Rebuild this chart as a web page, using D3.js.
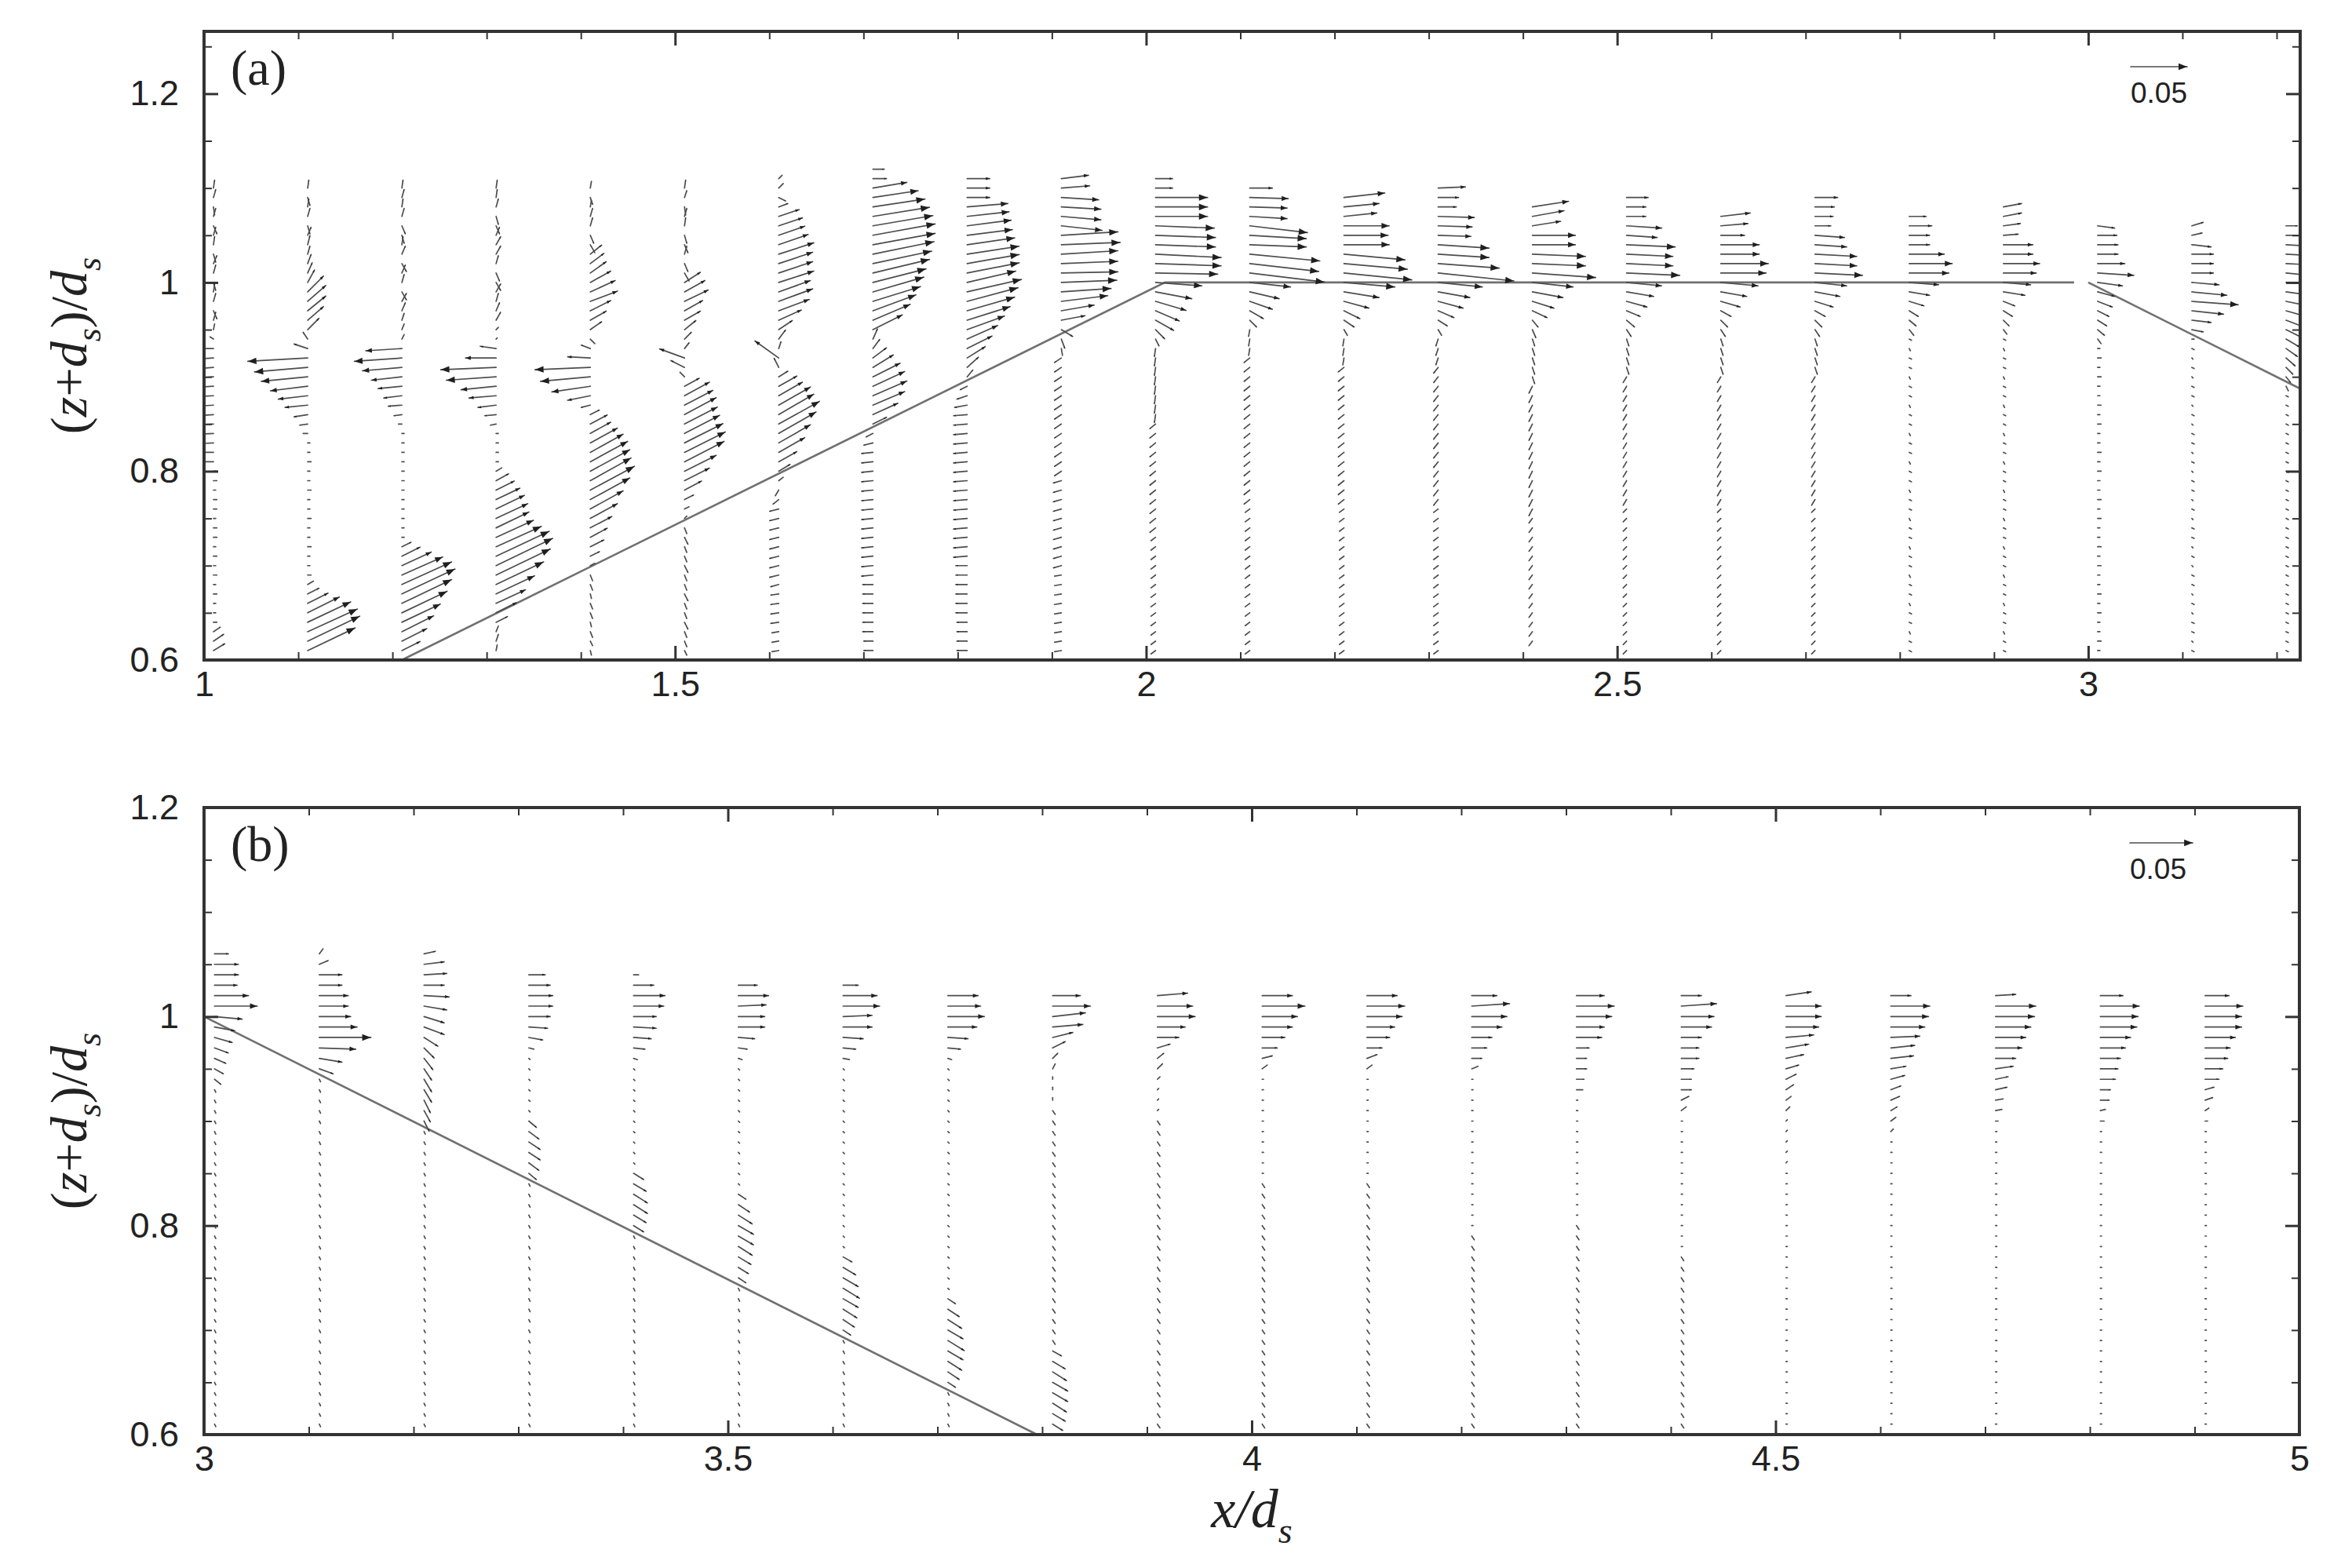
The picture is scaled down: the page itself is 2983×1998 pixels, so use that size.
<!DOCTYPE html>
<html>
<head>
<meta charset="utf-8">
<script src="https://cdn.jsdelivr.net/npm/d3@7"></script>
<style>
  body { margin: 0; background: #fff; }
  svg { display: block; }
</style>
</head>
<body>
<div id="main"></div>
<script>
// velocity vectors in units of 0.001 (reference arrow = 50 -> 0.05)
const VEC = 0.0012;   // x/d_s length per unit of velocity
const ROW = 0.01;     // vertical spacing of measuring points
const REF = 50;

// ---- panel (a) ----
const xTicksA = [1, 1.5, 2, 2.5, 3];
const xLabelsA = ['1', '1.5', '2', '2.5', '3'];
const yTicksA = [0.6, 0.8, 1.0, 1.2];
const yLabelsA = ['0.6', '0.8', '1', '1.2'];
const bedA1 = [[1.21, 0.6], [2.02, 1.0], [2.985, 1.0]];
const bedA2 = [[3.0, 1.0], [3.225, 0.8875]];

const profA_x = [1.01, 1.11, 1.21, 1.31, 1.41, 1.51, 1.61, 1.71, 1.81, 1.91, 2.01, 2.11, 2.21, 2.31, 2.41, 2.51, 2.61, 2.71, 2.81, 2.91, 3.01, 3.11, 3.21];
const profA_top = [1.10, 1.10, 1.10, 1.10, 1.10, 1.10, 1.11, 1.12, 1.11, 1.11, 1.11, 1.10, 1.09, 1.10, 1.08, 1.09, 1.07, 1.09, 1.07, 1.08, 1.06, 1.06, 1.06];

const profA_u = [
  [1,2,1,2,3,2,1,2,3,2,2,1,2,3,2,1,-3,-10,-18,-25,-30,-33,-34,-34,-32,-29,-25,-20,-15,-10,3,3,2,3,3,2,3,3,2,3,2,3,2,3,2,2,3,6,9,10],
  [1,2,1,2,2,3,2,2,3,4,6,14,16,16,14,10,-4,-12,-53,-47,-41,-33,-26,-20,-12,-7,-4,2,2,3,2,2,3,2,2,3,2,2,3,2,2,3,5,10,18,28,38,44,46,42],
  [1,2,1,2,3,2,1,3,4,3,2,4,4,3,2,2,2,-32,-42,-35,-27,-21,-16,-12,-7,-3,2,2,2,2,2,2,2,2,2,2,2,2,8,16,26,36,44,47,44,40,34,28,22,16],
  [1,1,2,2,3,3,4,4,2,3,4,4,2,3,4,2,1,-14,-27,-49,-44,-31,-24,-16,-10,-5,2,2,2,2,5,11,16,21,25,28,29,33,40,47,50,48,42,34,26,18,10,2,2,1],
  [1,2,1,2,2,3,4,10,12,14,18,22,24,18,14,10,4,-8,-20,-49,-44,-34,-20,-8,8,15,18,24,29,33,35,36,39,35,29,24,19,15,12,8,4,2,2,1,2,2,1,2,2,1],
  [1,2,1,2,1,2,3,2,3,4,14,18,21,16,14,10,6,4,-22,-12,-4,13,22,25,28,29,31,34,36,35,28,22,15,8,4,2,2,3,2,2,3,2,2,3,2,2,3,2,2,2],
  [3,4,6,8,18,21,23,26,31,30,30,31,28,30,27,20,12,6,2,-21,-4,8,16,21,28,31,36,33,28,23,16,10,4,-3,-5,-8,-8,-8,-8,-8,-8,-8,-8,-7,-7,-7,-7,-7,-6,-6,-6],
  [10,12,30,40,46,50,53,55,55,54,52,50,47,45,42,38,33,26,4,6,12,18,24,28,30,28,22,12,-6,-8,-10,-10,-10,-10,-10,-10,-10,-10,-10,-10,-10,-10,-10,-10,-9,-9,-9,-9,-9,-9,-8,-8],
  [20,20,20,36,37,39,40,42,46,46,46,43,48,45,42,38,33,27,22,16,10,5,-6,-9,-11,-12,-12,-12,-12,-12,-12,-12,-12,-12,-12,-12,-12,-12,-12,-12,-12,-10,-10,-10,-10,-10,-10,-9,-9,-9,-9],
  [24,25,33,35,35,36,50,52,50,50,50,49,44,41,29,21,10,3,1,-6,-6,-6,-6,-6,-6,-6,-6,-6,-6,-6,-6,-6,-7,-7,-7,-7,-7,-7,-7,-7,-7,-7,-6,-6,-6,-6,-6,-6,-6,-6,-6],
  [15,15,46,46,46,52,53,53,58,58,55,41,32,27,21,16,8,3,-1,-1,-1,-1,-1,-1,-1,-1,-5,-5,-5,-5,-5,-5,-5,-5,-5,-5,-5,-5,-4,-4,-4,-4,-4,-4,-4,-4,-4,-4,-4,-4,-4],
  [20,34,33,33,51,50,50,62,61,66,36,26,20,12,6,-1,-1,-1,-5,-5,-5,-5,-5,-5,-5,-5,-5,-5,-5,-5,-5,-5,-5,-5,-4,-4,-4,-4,-4,-4,-4,-4,-4,-4,-4,-4,-4,-4,-4,-4],
  [36,31,29,40,39,40,54,56,60,45,31,22,14,9,3,-1,-1,-1,-5,-5,-5,-5,-5,-5,-5,-5,-5,-5,-5,-5,-5,-5,-5,-4,-4,-4,-4,-4,-4,-4,-4,-4,-4,-4,-4,-4,-4,-4,-4],
  [24,18,16,32,30,29,45,45,54,67,39,28,22,14,8,3,-2,-2,-2,-4,-4,-4,-4,-4,-4,-4,-4,-4,-4,-4,-4,-4,-4,-4,-4,-4,-4,-4,-4,-4,-4,-4,-4,-4,-4,-4,-4,-4,-4,-4],
  [32,28,25,38,38,47,47,56,36,27,19,13,5,3,2,2,2,2,2,-3,-3,-3,-3,-3,-3,-3,-3,-3,-3,-3,-3,-3,-3,-3,-3,-3,-3,-3,-3,-3,-3,-3,-3,-3,-3,-3,-3],
  [19,17,17,31,27,43,41,41,47,31,24,18,12,7,4,2,2,2,2,-3,-3,-3,-3,-3,-3,-3,-3,-3,-3,-3,-3,-3,-3,-3,-3,-3,-3,-3,-3,-3,-3,-3,-3,-3,-3,-3,-3,-3,-3],
  [26,24,21,34,34,42,40,33,23,17,9,6,4,2,2,2,2,-3,-3,-3,-3,-3,-3,-3,-3,-3,-3,-3,-3,-3,-3,-3,-3,-3,-3,-3,-3,-3,-3,-3,-3,-3,-3,-3,-3,-3,-3],
  [20,17,16,14,26,28,37,37,42,28,22,16,9,6,4,2,2,2,2,-3,-3,-3,-3,-3,-3,-3,-3,-3,-3,-3,-3,-3,-3,-3,-3,-3,-3,-3,-3,-3,-3,-3,-3,-3,-3,-3,-3,-3,-3],
  [15,20,18,18,31,38,35,26,18,13,8,6,4,2,1,2,2,1,2,2,1,2,2,1,2,2,1,2,2,1,2,2,1,2,2,1,2,2,1,2,2,1,2,2,1,2,2],
  [16,16,15,13,26,26,32,29,24,19,10,8,5,3,2,1,2,2,1,2,2,1,2,2,1,2,2,1,2,2,1,2,2,1,2,2,1,2,2,1,2,2,1,2,2,1,2,2],
  [15,17,18,18,24,32,22,15,13,10,8,6,3,2,3,2,3,2,2,3,2,3,2,2,3,2,3,2,2,3,2,3,2,2,3,2,3,2,2,3,2,3,2,2,3,2],
  [10,9,17,19,19,19,24,31,41,28,17,10,2,2,1,2,1,2,2,1,2,1,2,2,1,2,1,2,2,1,2,1,2,2,1,2,1,2,2,1,2,1,2,2,1,2],
  [10,14,16,18,20,22,24,22,20,18,16,14,12,10,8,6,4,2,2,2,2,2,2,2,2,2,2,2,2,2,2,2,2,2,2,2,2,2,2,2,2,2,2,2,2,2]
];
const profA_w = [
  [7,7,-7,7,-7,7,7,-7,7,7,-7,7,7,-7,7,5,2,0,-1,-2,-2,-2,-2,-2,-2,-1,-1,-1,0,0,0,0,0,0,0,0,0,0,0,0,0,0,0,0,0,0,0,4,6,6],
  [7,-7,7,7,-7,7,8,7,8,9,11,14,14,13,12,10,6,4,-3,-4,-4,-4,-3,-2,-2,-1,0,0,0,0,0,0,0,0,0,0,0,0,0,0,0,0,3,5,9,14,18,20,22,20],
  [7,7,7,7,-7,-7,7,7,-7,7,7,-7,7,7,6,5,4,-2,-3,-3,-3,-2,-2,-1,-1,0,0,0,0,0,0,0,0,0,0,0,0,0,4,8,12,16,20,22,21,19,16,14,11,8],
  [7,7,7,-7,-7,7,7,7,7,-7,-7,7,7,7,7,2,1,2,0,-2,-3,-3,-2,-2,-1,-1,0,0,0,0,3,6,8,10,12,13,14,15,18,22,24,23,20,16,12,9,5,5,6,5],
  [6,-6,6,7,7,-7,-7,8,9,10,10,10,9,9,8,7,-4,3,1,-2,-4,-5,-4,-2,4,8,10,13,16,18,19,20,21,19,16,13,10,8,6,4,2,-5,-5,-4,-5,-5,-4,-5,-4,-4],
  [7,6,-7,7,7,-7,-7,7,-7,-7,9,10,10,9,8,8,6,5,8,6,4,7,12,13,15,15,16,17,18,18,14,11,8,4,2,2,-5,-6,-5,-5,-6,-5,-5,-6,-5,-5,-6,-5,-5,-4],
  [3,4,-3,3,6,7,8,9,10,10,10,10,10,11,10,9,8,8,6,15,8,5,9,12,16,18,20,19,16,13,9,6,3,-5,-4,-2,-2,-2,-2,-2,-2,-2,-2,-2,-1,-1,-1,-1,-1,-1,-1],
  [0,0,5,6,7,8,9,10,10,11,11,12,12,13,13,14,14,13,9,8,9,11,12,13,13,12,10,6,-3,-2,-1,-1,-1,-1,-1,-1,-1,-1,-1,-1,-1,-1,-1,-1,0,0,0,0,0,0,0,0],
  [0,0,0,3,4,5,5,6,7,8,9,10,11,12,12,12,12,12,11,10,9,6,-3,-3,-2,-1,-1,-1,-1,-1,-1,-1,-1,-1,-1,-1,-1,-1,-1,-1,-1,0,0,0,0,0,0,0,0,0,0],
  [3,2,-2,-2,-3,-4,3,2,3,2,1,2,3,5,5,4,-6,-8,-6,-4,-4,-4,-4,-4,-4,-4,-4,-4,-4,-4,-4,-4,-2,-2,-2,-2,-2,-2,-2,-2,-2,-2,-1,-1,-1,-1,-1,-1,-1,-1,-1],
  [0,0,0,0,0,-2,-2,-2,-3,-2,-1,-3,-6,-8,-9,-9,-8,-6,-7,-7,-7,-7,-7,-7,-7,-7,-4,-4,-4,-4,-4,-4,-4,-4,-4,-4,-4,-4,-3,-3,-3,-3,-3,-3,-3,-3,-3,-3,-3,-3,-3],
  [0,-1,-1,-2,-6,-3,-2,-6,-7,-8,-4,-6,-7,-7,-6,-6,-6,-6,-4,-4,-4,-4,-4,-4,-4,-4,-4,-4,-4,-4,-4,-4,-4,-4,-3,-3,-3,-3,-3,-3,-3,-3,-3,-3,-3,-3,-3,-3,-3,-3],
  [4,3,3,0,0,0,-5,-5,-6,-4,-5,-6,-7,-6,-5,-6,-6,-6,-4,-4,-4,-4,-4,-4,-4,-4,-4,-4,-4,-4,-4,-4,-4,-3,-3,-3,-3,-3,-3,-3,-3,-3,-3,-3,-3,-3,-3,-3,-3],
  [1,0,0,-1,-1,-1,-3,-3,-4,-7,-4,-5,-6,-6,-5,-5,-6,-6,-6,-5,-5,-5,-5,-5,-5,-5,-5,-5,-5,-5,-5,-5,-5,-5,-3,-3,-3,-3,-3,-3,-3,-3,-3,-3,-3,-3,-3,-3,-3,-3],
  [5,5,4,0,0,-2,-2,-4,-4,-5,-6,-6,-6,-7,-6,-6,-6,-6,-6,-6,-6,-6,-6,-6,-6,-6,-6,-6,-6,-6,-6,-6,-6,-4,-4,-4,-4,-4,-4,-4,-4,-4,-4,-4,-4,-4,-4,-4],
  [0,0,0,-2,-2,-2,-2,-2,-2,-3,-4,-5,-5,-6,-6,-6,-6,-6,-6,-5,-5,-5,-5,-5,-5,-5,-5,-5,-5,-5,-5,-5,-5,-3,-3,-3,-3,-3,-3,-3,-3,-3,-3,-3,-3,-3,-3,-3,-3],
  [3,2,0,0,0,0,0,-3,-4,-5,-5,-6,-6,-6,-6,-6,-6,-5,-5,-5,-5,-5,-5,-5,-5,-5,-5,-5,-5,-5,-5,-3,-3,-3,-3,-3,-3,-3,-3,-3,-3,-3,-3,-3,-3,-3,-3],
  [0,0,0,0,-2,-2,-2,-2,-2,-3,-4,-5,-5,-6,-6,-6,-6,-6,-6,-5,-5,-5,-5,-5,-5,-5,-5,-5,-5,-5,-5,-5,-5,-3,-3,-3,-3,-3,-3,-3,-3,-3,-3,-3,-3,-3,-3,-3,-3],
  [0,0,0,0,0,0,0,-2,-3,-4,-5,-5,-5,-1,-2,-1,-1,-2,-1,-1,-2,-1,-1,-2,-1,-1,-2,-1,-1,-2,-1,-1,-2,-1,-1,-2,-1,-1,-2,-1,-1,-2,-1,-1,-2,-1,-1],
  [3,3,2,1,0,0,0,0,-2,-3,-4,-5,-5,-4,-1,-2,-1,-1,-2,-1,-1,-2,-1,-1,-2,-1,-1,-2,-1,-1,-2,-1,-1,-2,-1,-1,-2,-1,-1,-2,-1,-1,-2,-1,-1,-2,-1,-1],
  [-2,0,0,0,0,-2,-3,-4,-5,-5,-5,-5,-4,0,0,0,0,0,0,0,0,0,0,0,0,0,0,0,0,0,0,0,0,0,0,0,0,0,0,0,0,0,0,0,0,0],
  [3,2,-2,0,0,0,-2,-3,-3,-3,-2,-2,0,-1,-1,-1,-1,-1,-1,-1,-1,-1,-1,-1,-1,-1,-1,-1,-1,-1,-1,-1,-1,-1,-1,-1,-1,-1,-1,-1,-1,-1,-1,-1,-1,-1],
  [0,0,-1,-1,-1,-2,-2,-3,-4,-5,-6,-7,-7,-7,-7,-6,-5,-4,-1,-1,-1,-1,-1,-1,-1,-1,-1,-1,-1,-1,-1,-1,-1,-1,-1,-1,-1,-1,-1,-1,-1,-1,-1,-1,-1,-1]
];

// ---- panel (b) ----
const xTicksB = [3, 3.5, 4, 4.5, 5];
const xLabelsB = ['3', '3.5', '4', '4.5', '5'];
const yTicksB = [0.6, 0.8, 1.0, 1.2];
const yLabelsB = ['0.6', '0.8', '1', '1.2'];
const bedB = [[3.0, 1.0], [3.795, 0.6]];

const profB_x = [3.01, 3.11, 3.21, 3.31, 3.41, 3.51, 3.61, 3.71, 3.81, 3.91, 4.01, 4.11, 4.21, 4.31, 4.41, 4.51, 4.61, 4.71, 4.81, 4.91];
const profB_top = [1.06, 1.06, 1.06, 1.04, 1.04, 1.03, 1.03, 1.02, 1.02, 1.02, 1.02, 1.02, 1.02, 1.02, 1.02, 1.02, 1.02, 1.02, 1.02, 1.02];

const profB_u = [
  [11,19,19,18,27,34,22,16,14,11,9,7,5,1,1,1,1,1,1,1,1,1,1,1,1,1,1,1,1,1,1,1,1,1,1,1,1,1,1,1,1,1,1,1,1,1],
  [3,7,18,18,23,23,25,30,41,29,18,11,1,1,1,1,1,1,1,1,1,1,1,1,1,1,1,1,1,1,1,1,1,1,1,1,1,1,1,1,1,1,1,1,1,1],
  [9,16,18,16,20,18,16,16,11,8,7,6,6,6,5,5,4,1,1,1,1,1,1,1,1,1,1,1,1,1,1,1,1,1,1,1,1,1,1,1,1,1,1,1,1,1],
  [13,17,19,19,17,15,11,4,1,1,1,1,1,1,6,8,9,9,8,6,1,1,1,1,1,1,1,1,1,1,1,1,1,1,1,1,1,1,1,1,1,1,1,1],
  [4,16,25,24,18,18,14,9,3,1,1,1,1,1,1,1,1,1,1,8,10,11,11,10,8,1,1,1,1,1,1,1,1,1,1,1,1,1,1,1,1,1,1,1],
  [15,24,22,21,21,13,7,3,1,1,1,1,1,1,1,1,1,1,1,1,6,9,11,12,12,11,10,8,6,1,1,1,1,1,1,1,1,1,1,1,1,1,1],
  [12,27,29,23,23,16,10,5,1,1,1,1,1,1,1,1,1,1,1,1,1,1,1,1,1,1,7,10,12,13,12,11,9,6,1,1,1,1,1,1,1,1,1],
  [24,26,29,23,16,10,3,1,1,1,1,1,1,1,1,1,1,1,1,1,1,1,1,1,1,1,1,1,1,6,9,11,12,13,12,11,9,6,1,1,1,1],
  [22,30,26,24,16,10,4,2,0,0,0,2,2,2,2,2,2,2,2,2,2,2,2,2,2,2,2,2,2,2,2,2,2,2,7,10,11,12,12,11,10,8],
  [24,28,30,22,17,10,5,4,2,1,1,1,2,2,2,2,2,2,2,2,2,2,2,2,2,2,2,2,2,2,2,2,2,2,2,2,2,2,2,2,2,2],
  [24,34,28,24,18,12,8,4,1,1,1,1,1,1,1,1,1,1,2,2,2,2,2,2,2,2,2,2,2,2,2,2,2,2,2,2,2,2,2,2,2,2],
  [24,30,28,22,18,12,8,4,1,1,1,1,1,1,1,1,1,1,2,2,2,2,2,2,2,2,2,2,2,2,2,2,2,2,2,2,2,2,2,2,2,2],
  [20,30,28,24,16,12,8,5,1,1,1,1,1,1,1,1,1,1,1,1,1,1,1,2,2,2,2,2,2,2,2,2,2,2,2,2,2,2,2,2,2,2],
  [22,30,28,22,20,10,8,8,6,5,1,1,1,1,1,1,1,1,1,1,1,1,2,2,2,2,2,2,2,2,2,2,2,2,2,2,2,2,2,2,2,2],
  [16,28,26,24,16,14,14,10,8,8,6,4,1,1,1,1,1,1,1,1,1,1,1,1,1,2,2,2,2,2,2,2,2,2,2,2,2,2,2,2,2,2],
  [20,28,28,26,22,18,14,10,8,6,4,3,1,1,1,1,1,1,1,1,1,1,1,1,1,1,1,1,1,1,1,1,1,1,1,1,1,1,1,1,1,1],
  [16,31,30,27,23,19,18,12,11,8,7,5,4,2,1,1,1,1,1,1,1,1,1,1,1,1,1,1,1,1,1,1,1,1,1,1,1,1,1,1,1,1],
  [16,32,31,28,24,21,16,14,10,9,6,5,2,1,1,1,1,1,1,1,1,1,1,1,1,1,1,1,1,1,1,1,1,1,1,1,1,1,1,1,1,1],
  [18,31,30,29,24,20,16,14,12,8,7,4,3,1,1,1,1,1,1,1,1,1,1,1,1,1,1,1,1,1,1,1,1,1,1,1,1,1,1,1,1,1],
  [19,30,29,29,24,20,18,14,11,7,6,3,2,1,1,1,1,1,1,1,1,1,1,1,1,1,1,1,1,1,1,1,1,1,1,1,1,1,1,1,1,1]
];
const profB_w = [
  [0,0,0,0,0,0,-2,-3,-4,-4,-4,-4,-4,-2,-2,-2,-2,-2,-2,-2,-2,-2,-2,-2,-2,-2,-2,-2,-2,-2,-2,-2,-2,-2,-2,-2,-2,-2,-2,-2,-2,-2,-2,-2,-2,-2],
  [4,3,0,0,0,0,0,0,0,-1,-3,-4,-2,-2,-2,-2,-2,-2,-2,-2,-2,-2,-2,-2,-2,-2,-2,-2,-2,-2,-2,-2,-2,-2,-2,-2,-2,-2,-2,-2,-2,-2,-2,-2,-2,-2],
  [2,2,1,0,-1,-3,-5,-6,-7,-8,-9,-9,-10,-10,-10,-9,-8,-2,-2,-2,-2,-2,-2,-2,-2,-2,-2,-2,-2,-2,-2,-2,-2,-2,-2,-2,-2,-2,-2,-2,-2,-2,-2,-2,-2,-2],
  [0,0,0,0,0,-1,-2,-1,-1,-1,-1,-1,-1,-1,-5,-6,-6,-6,-6,-5,-2,-2,-2,-2,-2,-2,-2,-2,-2,-2,-2,-2,-2,-2,-2,-2,-2,-2,-2,-2,-2,-2,-2,-2],
  [0,0,0,0,0,-1,-1,-1,-1,-1,-1,-1,-1,-1,-1,-1,-1,-1,-1,-5,-6,-7,-7,-6,-5,-2,-2,-2,-2,-2,-2,-2,-2,-2,-2,-2,-2,-2,-2,-2,-2,-2,-2,-2],
  [0,0,1,0,0,-1,-1,-1,-1,-1,-1,-1,-1,-1,-1,-1,-1,-1,-1,-1,-4,-6,-7,-7,-7,-7,-6,-5,-4,-2,-2,-2,-2,-2,-2,-2,-2,-2,-2,-2,-2,-2,-2],
  [0,0,0,1,0,-1,-1,-1,-1,-1,-1,-1,-1,-1,-1,-1,-1,-1,-1,-1,-1,-1,-1,-1,-1,-1,-4,-6,-7,-8,-7,-7,-6,-4,-2,-2,-2,-2,-2,-2,-2,-2,-2],
  [0,0,0,0,-1,-1,-1,-1,-1,-1,-1,-1,-1,-1,-1,-1,-1,-1,-1,-1,-1,-1,-1,-1,-1,-1,-1,-1,-1,-4,-6,-7,-7,-8,-7,-7,-6,-4,-2,-2,-2,-2],
  [0,0,3,2,4,5,4,4,2,2,2,-3,-3,-3,-3,-3,-3,-3,-3,-3,-3,-3,-3,-3,-3,-3,-3,-3,-3,-3,-3,-3,-3,-3,-4,-6,-7,-7,-7,-7,-6,-5],
  [2,0,0,0,0,3,4,4,2,1,1,1,-3,-3,-3,-3,-3,-3,-3,-3,-3,-3,-3,-3,-3,-3,-3,-3,-3,-3,-3,-3,-3,-3,-3,-3,-3,-3,-3,-3,-3,-3],
  [0,0,0,0,0,0,2,3,0,0,0,0,0,0,0,0,0,0,-3,-3,-3,-3,-3,-3,-3,-3,-3,-3,-3,-3,-3,-3,-3,-3,-3,-3,-3,-3,-3,-3,-3,-3],
  [0,0,0,0,0,0,3,3,0,0,0,0,0,0,0,0,0,0,-3,-3,-3,-3,-3,-3,-3,-3,-3,-3,-3,-3,-3,-3,-3,-3,-3,-3,-3,-3,-3,-3,-3,-3],
  [0,2,0,0,0,0,0,2,0,0,0,0,0,0,0,0,0,0,0,0,0,0,0,-3,-3,-3,-3,-3,-3,-3,-3,-3,-3,-3,-3,-3,-3,-3,-3,-3,-3,-3],
  [0,0,0,0,0,0,0,0,0,0,0,0,0,0,0,0,0,0,0,0,0,0,-3,-3,-3,-3,-3,-3,-3,-3,-3,-3,-3,-3,-3,-3,-3,-3,-3,-3,-3,-3],
  [0,2,0,0,0,0,0,0,0,0,3,3,0,0,0,0,0,0,0,0,0,0,0,0,0,-3,-3,-3,-3,-3,-3,-3,-3,-3,-3,-3,-3,-3,-3,-3,-3,-3],
  [3,0,0,0,2,3,3,3,4,4,3,3,1,1,1,1,1,0,0,0,0,0,0,0,0,0,0,0,0,0,0,0,0,0,0,0,0,0,0,0,0,0],
  [0,0,0,0,1,2,2,2,3,3,3,3,3,2,0,0,0,0,0,0,0,0,0,0,0,0,0,0,0,0,0,0,0,0,0,0,0,0,0,0,0,0],
  [1,0,0,0,0,0,0,2,2,2,1,1,0,0,0,0,0,0,0,0,0,0,0,0,0,0,0,0,0,0,0,0,0,0,0,0,0,0,0,0,0,0],
  [0,0,0,0,0,0,0,0,0,0,0,1,0,0,0,0,0,0,0,0,0,0,0,0,0,0,0,0,0,0,0,0,0,0,0,0,0,0,0,0,0,0],
  [0,0,0,0,0,0,0,0,0,2,2,2,0,0,0,0,0,0,0,0,0,0,0,0,0,0,0,0,0,0,0,0,0,0,0,0,0,0,0,0,0,0]
];

const SANS = '"Liberation Sans", Arial, Helvetica, sans-serif';
const SERIF = '"Liberation Serif", "Times New Roman", Times, serif';
const INK = '#333';

const svg = d3.select('#main').append('svg')
  .attr('width', 2983)
  .attr('height', 1998)
  .style('background', '#fff');

function drawArrow(g, x1, y1, x2, y2) {
  const dx = x2 - x1, dy = y2 - y1;
  const len = Math.hypot(dx, dy);
  g.append('line')
    .attr('x1', x1).attr('y1', y1)
    .attr('x2', x2).attr('y2', y2)
    .attr('stroke', '#4d4d4d')
    .attr('stroke-width', 1.7)
    .attr('stroke-linecap', 'round');
  if (len > 9) {
    const h = Math.min(11, 0.17 * len), hw = 0.38 * h;
    const ux = dx / len, uy = dy / len;
    const bx = x2 - ux * h, by = y2 - uy * h;
    g.append('path')
      .attr('d', `M${x2},${y2}L${bx - uy * hw},${by + ux * hw}L${bx + uy * hw},${by - ux * hw}Z`)
      .attr('fill', '#1f1f1f');
  }
}

function minorTicks(domain, step, majors) {
  const lo = Math.ceil(domain[0] / step - 1e-6), hi = Math.floor(domain[1] / step + 1e-6);
  return d3.range(lo, hi + 1).map(k => +(k * step).toFixed(4))
    .filter(v => !majors.some(m => Math.abs(m - v) < 1e-6));
}

function styleAxis(sel, width) {
  sel.select('.domain').remove();
  sel.attr('color', INK).attr('font-family', SANS).attr('font-size', 45);
  sel.selectAll('line').attr('stroke-width', width);
  sel.selectAll('text').attr('fill', '#222');
}

function drawPanel(p) {
  const { x, y, xs, tops, us, ws, beds, xMaj, xLab, yMaj, yLab, tag, id } = p;
  const [L, R] = x.range();
  const [B, T] = y.range();
  const g = svg.append('g');

  g.append('clipPath').attr('id', id)
    .append('rect').attr('x', L).attr('y', T).attr('width', R - L).attr('height', B - T);
  const plot = g.append('g').attr('clip-path', `url(#${id})`);

  // bed profile
  const line = d3.line().x(d => x(d[0])).y(d => y(d[1]));
  beds.forEach(b => {
    plot.append('path').datum(b)
      .attr('d', line)
      .attr('fill', 'none')
      .attr('stroke', '#707070')
      .attr('stroke-width', 2.6);
  });

  // velocity profiles
  xs.forEach((x0, i) => {
    const u = us[i], w = ws[i];
    u.forEach((uu, j) => {
      const z = tops[i] - ROW * j;
      const ww = w[j] || 0;
      drawArrow(plot, x(x0), y(z), x(x0 + uu * VEC), y(z + ww * VEC));
    });
  });

  // axes (ticks inside the frame)
  const xMin = minorTicks(x.domain(), 0.1, xMaj);
  const yMin = minorTicks(y.domain(), 0.05, yMaj);

  g.append('g').attr('transform', `translate(0,${B})`)
    .call(d3.axisBottom(x).tickValues(xMaj).tickFormat((d, i) => xLab[i])
      .tickSizeInner(-18).tickSizeOuter(0).tickPadding(14))
    .call(s => styleAxis(s, 3));
  g.append('g').attr('transform', `translate(0,${B})`)
    .call(d3.axisBottom(x).tickValues(xMin).tickFormat('').tickSizeInner(-10).tickSizeOuter(0))
    .call(s => styleAxis(s, 2));
  g.append('g').attr('transform', `translate(0,${T})`)
    .call(d3.axisTop(x).tickValues(xMaj).tickFormat('').tickSizeInner(-18).tickSizeOuter(0))
    .call(s => styleAxis(s, 3));
  g.append('g').attr('transform', `translate(0,${T})`)
    .call(d3.axisTop(x).tickValues(xMin).tickFormat('').tickSizeInner(-10).tickSizeOuter(0))
    .call(s => styleAxis(s, 2));

  g.append('g').attr('transform', `translate(${L},0)`)
    .call(d3.axisLeft(y).tickValues(yMaj).tickFormat((d, i) => yLab[i])
      .tickSizeInner(-18).tickSizeOuter(0).tickPadding(32))
    .call(s => styleAxis(s, 3));
  g.append('g').attr('transform', `translate(${L},0)`)
    .call(d3.axisLeft(y).tickValues(yMin).tickFormat('').tickSizeInner(-10).tickSizeOuter(0))
    .call(s => styleAxis(s, 2));
  g.append('g').attr('transform', `translate(${R},0)`)
    .call(d3.axisRight(y).tickValues(yMaj).tickFormat('').tickSizeInner(-18).tickSizeOuter(0))
    .call(s => styleAxis(s, 3));
  g.append('g').attr('transform', `translate(${R},0)`)
    .call(d3.axisRight(y).tickValues(yMin).tickFormat('').tickSizeInner(-10).tickSizeOuter(0))
    .call(s => styleAxis(s, 2));

  g.append('rect')
    .attr('x', L).attr('y', T).attr('width', R - L).attr('height', B - T)
    .attr('fill', 'none').attr('stroke', INK).attr('stroke-width', 4);

  // panel tag
  g.append('text')
    .attr('x', L + 34).attr('y', T + 68)
    .attr('font-family', SERIF).attr('font-size', 64).attr('fill', '#222')
    .text(tag);

  // reference vector
  const rx = R - 216, ry = T + 45;
  const x0 = x.domain()[0];
  drawArrow(g, rx, ry, rx + (x(x0 + REF * VEC) - x(x0)), ry);
  g.append('text')
    .attr('x', rx).attr('y', ry + 46)
    .attr('font-family', SANS).attr('font-size', 37).attr('fill', '#222')
    .text('0.05');

  // y title (z+d_s)/d_s
  const t = g.append('text')
    .attr('transform', `translate(110,${(T + B) / 2}) rotate(-90)`)
    .attr('text-anchor', 'middle')
    .attr('font-family', SERIF).attr('font-size', 66).attr('fill', '#222');
  t.append('tspan').text('(');
  t.append('tspan').attr('font-style', 'italic').text('z');
  t.append('tspan').text('+');
  t.append('tspan').attr('font-style', 'italic').text('d');
  t.append('tspan').attr('font-style', 'italic').attr('font-size', 44).attr('dy', 18).text('s');
  t.append('tspan').attr('dy', -18).text(')/');
  t.append('tspan').attr('font-style', 'italic').text('d');
  t.append('tspan').attr('font-style', 'italic').attr('font-size', 44).attr('dy', 18).text('s');
}

const xA = d3.scaleLinear().domain([1, 3.225]).range([260, 2931]);
const yA = d3.scaleLinear().domain([0.6, 1.266]).range([841, 40]);
const xB = d3.scaleLinear().domain([3, 5]).range([260, 2930]);
const yB = d3.scaleLinear().domain([0.6, 1.2]).range([1828, 1029]);

drawPanel({
  id: 'clipA', x: xA, y: yA,
  xs: profA_x, tops: profA_top, us: profA_u, ws: profA_w,
  beds: [bedA1, bedA2],
  xMaj: xTicksA, xLab: xLabelsA, yMaj: yTicksA, yLab: yLabelsA, tag: '(a)'
});
drawPanel({
  id: 'clipB', x: xB, y: yB,
  xs: profB_x, tops: profB_top, us: profB_u, ws: profB_w,
  beds: [bedB],
  xMaj: xTicksB, xLab: xLabelsB, yMaj: yTicksB, yLab: yLabelsB, tag: '(b)'
});

// x title x/d_s
const xt = svg.append('text')
  .attr('x', (xB.range()[0] + xB.range()[1]) / 2).attr('y', 1946)
  .attr('text-anchor', 'middle')
  .attr('font-family', SERIF).attr('font-size', 70).attr('font-style', 'italic').attr('fill', '#222');
xt.append('tspan').text('x/d');
xt.append('tspan').attr('font-size', 46).attr('dy', 20).text('s');
</script>
</body>
</html>
